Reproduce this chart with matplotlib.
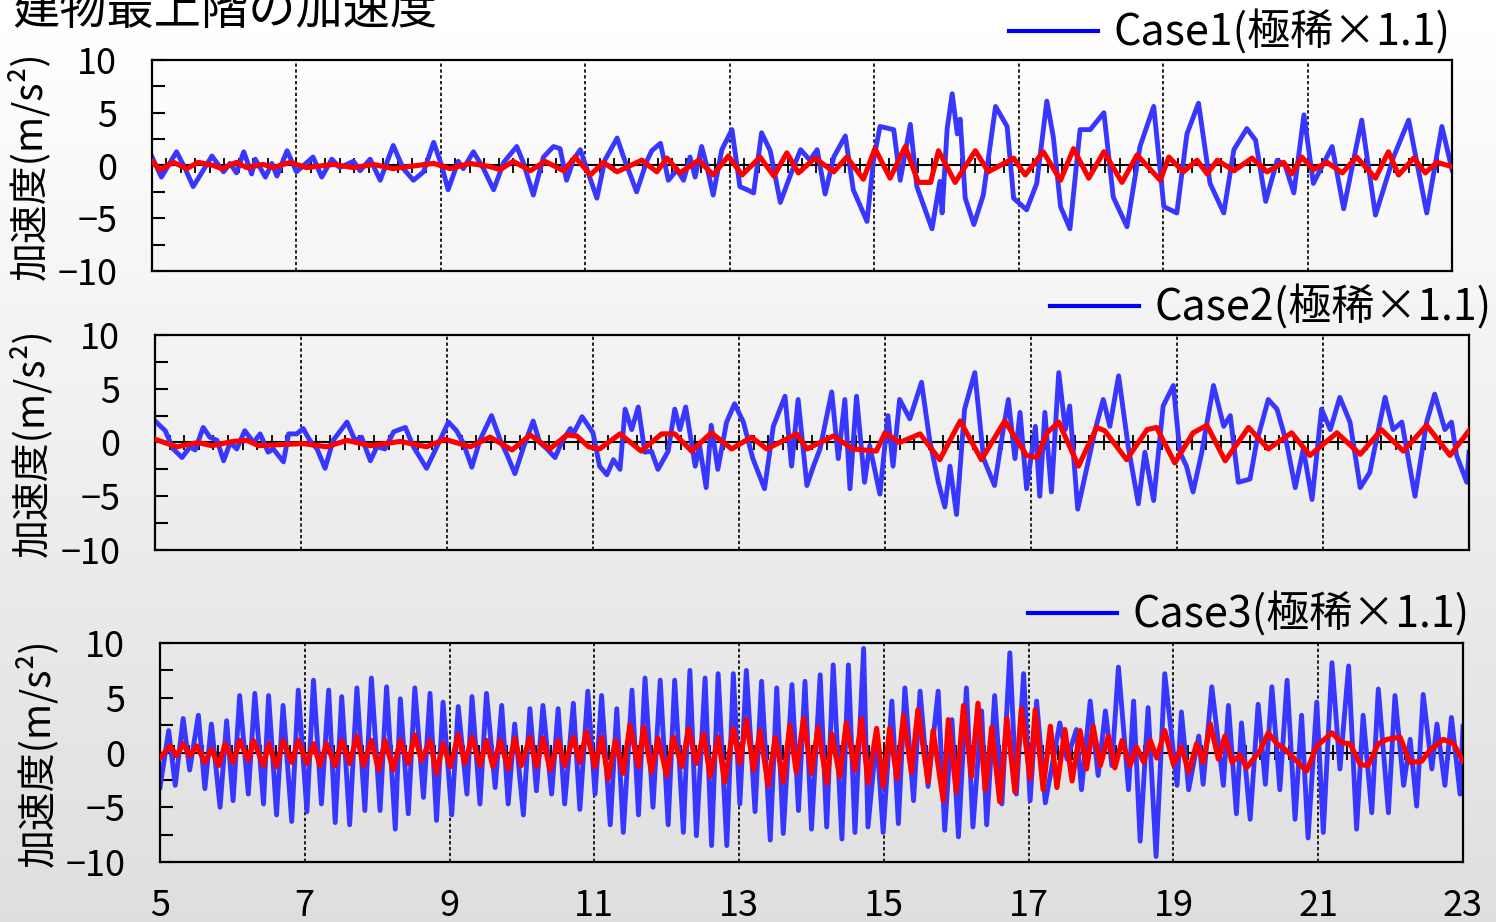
import numpy as np
import matplotlib.pyplot as plt

plt.rcParams['font.family'] = ['Noto Sans CJK JP', 'DejaVu Sans']

# (time [s], acceleration [m/s2]) turning points of each record
case1_blue = [(5.00, 0.8), (5.13, -1.1), (5.34, 1.3), (5.46, -0.3), (5.57, -2.0), (5.83, 0.9), (5.99, -0.6),
              (6.08, 0.2), (6.17, -0.7), (6.27, 1.3), (6.38, -0.8), (6.43, 0.6), (6.57, -1.1), (6.66, 0.2),
              (6.73, -1.0), (6.87, 1.4), (7.00, -0.6), (7.23, 0.8), (7.35, -1.1), (7.49, 0.6), (7.60, -0.2),
              (7.79, 0.4), (7.88, -0.5), (8.02, 0.6), (8.16, -1.4), (8.34, 1.9), (8.48, -0.3), (8.62, -1.4),
              (8.76, -0.6), (8.90, 2.2), (9.01, 0.0), (9.10, -2.3), (9.24, 0.4), (9.31, -0.3), (9.45, 1.3),
              (9.59, -0.3), (9.73, -2.3), (9.87, 0.3), (10.05, 1.8), (10.14, 0.3), (10.28, -2.8), (10.42, 0.8),
              (10.56, 1.8), (10.65, 1.6), (10.74, -1.4), (10.84, 0.6), (10.93, 1.5), (11.16, -3.1), (11.27, 0.5),
              (11.44, 2.6), (11.53, 0.8), (11.71, -2.5), (11.85, 0.4), (11.92, 1.4), (12.04, 2.1), (12.15, -1.4),
              (12.27, -0.4), (12.36, -1.4), (12.45, 0.8), (12.52, -1.1), (12.61, 1.8), (12.68, 0.0), (12.77, -2.8),
              (12.89, 1.5), (13.03, 3.4), (13.14, -2.0), (13.24, -2.3), (13.33, -2.6), (13.44, 3.1), (13.56, 1.4),
              (13.70, -3.5), (13.84, -0.9), (13.98, 1.5), (14.11, 0.5), (14.21, 1.5), (14.32, -2.7), (14.44, 0.8),
              (14.60, 2.8), (14.71, -2.3), (14.90, -5.3), (14.99, 0.5), (15.08, 3.7), (15.27, 3.4), (15.36, -1.4),
              (15.50, 3.9), (15.59, -2.0), (15.80, -6.0), (15.91, -1.5), (15.94, -4.5), (16.01, 3.5), (16.08, 6.8),
              (16.15, 3.0), (16.19, 4.4), (16.26, -3.1), (16.38, -5.6), (16.51, -2.8), (16.68, 5.6), (16.84, 3.7),
              (16.93, -3.1), (17.11, -4.2), (17.25, -1.7), (17.39, 6.1), (17.48, 2.7), (17.58, -3.9), (17.71, -6.0),
              (17.85, 3.4), (17.99, 3.4), (18.18, 5.0), (18.31, -3.0), (18.50, -5.8), (18.68, 1.8), (18.87, 5.6),
              (19.01, -3.9), (19.19, -4.5), (19.33, 3.0), (19.49, 5.9), (19.65, -1.7), (19.84, -4.5), (19.98, 1.5),
              (20.16, 3.5), (20.28, 2.4), (20.42, -3.4), (20.58, 0.5), (20.69, 0.0), (20.81, -2.6), (20.95, 4.8),
              (21.08, -1.7), (21.34, 1.8), (21.50, -4.1), (21.75, 4.3), (21.94, -4.7), (22.19, 0.8), (22.40, 4.3),
              (22.65, -4.5), (22.86, 3.7), (23.00, -0.4)]
case1_red = [(5.00, 0.4), (5.11, -0.4), (5.30, 0.3), (5.48, -0.3), (5.64, 0.3), (5.85, 0.0), (5.97, -0.3),
             (6.17, 0.3), (6.31, -0.2), (6.54, 0.1), (6.68, -0.2), (6.91, 0.3), (7.14, -0.2), (7.51, 0.1),
             (7.79, -0.2), (8.07, 0.1), (8.34, -0.3), (8.67, 0.0), (8.90, 0.2), (9.13, -0.3), (9.40, 0.2),
             (9.68, -0.1), (9.82, -0.4), (10.00, 0.4), (10.24, -0.5), (10.44, 0.4), (10.70, -0.5), (10.86, 0.8),
             (11.07, -0.9), (11.25, 0.3), (11.44, -0.6), (11.78, 0.5), (11.99, -0.6), (12.13, 0.7), (12.31, -0.7),
             (12.57, 0.5), (12.77, -0.9), (12.98, 0.9), (13.17, -0.9), (13.42, 0.8), (13.61, -1.0), (13.79, 1.2),
             (13.95, -0.7), (14.18, 0.7), (14.44, -0.6), (14.62, 0.8), (14.85, -1.3), (15.01, 1.6), (15.22, -1.2),
             (15.43, 1.8), (15.61, -1.6), (15.78, -1.6), (15.89, 1.4), (16.12, -1.6), (16.40, 1.4), (16.58, -0.6),
             (16.93, 0.7), (17.09, -0.9), (17.34, 1.3), (17.58, -1.4), (17.76, 1.6), (17.97, -1.2), (18.18, 1.3),
             (18.43, -1.6), (18.64, 1.0), (18.96, -1.4), (19.08, 0.8), (19.28, -0.6), (19.47, 0.5), (19.61, -0.8),
             (19.75, 0.5), (19.98, -0.5), (20.23, 0.7), (20.44, -0.6), (20.67, 0.3), (20.78, -0.8), (20.92, 0.8),
             (21.08, -0.4), (21.27, 0.3), (21.48, -0.7), (21.68, 0.8), (21.94, -1.2), (22.12, 1.3), (22.26, -0.9),
             (22.47, 0.7), (22.63, -0.7), (22.79, 0.3), (23.00, -0.1)]

case2_blue = [(5.00, 2.0), (5.14, 1.1), (5.25, -0.6), (5.37, -1.4), (5.48, -0.4), (5.55, -0.7), (5.66, 1.4),
              (5.75, 0.5), (5.85, 0.2), (5.94, -1.7), (6.03, 0.0), (6.12, -0.6), (6.23, 1.1), (6.35, 0.0),
              (6.44, 0.8), (6.55, -0.9), (6.62, -0.6), (6.76, -1.8), (6.83, 0.8), (6.94, 0.8), (7.03, 1.3),
              (7.12, 0.2), (7.22, -0.6), (7.33, -2.4), (7.44, 0.2), (7.63, 1.9), (7.74, 0.2), (7.83, 0.5),
              (7.95, -1.7), (8.04, -0.4), (8.15, -0.6), (8.27, 1.0), (8.43, 1.4), (8.54, -0.4), (8.72, -2.4),
              (8.84, -0.7), (9.02, 1.9), (9.13, 1.1), (9.22, 0.0), (9.34, -2.3), (9.45, 0.2), (9.61, 2.5),
              (9.73, 0.2), (9.82, -1.1), (9.93, -2.9), (10.05, -0.4), (10.18, 2.0), (10.27, 0.0), (10.37, -0.6),
              (10.48, -1.4), (10.57, 0.0), (10.69, 1.3), (10.73, 0.8), (10.85, 2.4), (11.00, 0.9), (11.09, -2.2),
              (11.19, -3.0), (11.28, -1.6), (11.37, -2.5), (11.44, 3.1), (11.53, 1.2), (11.62, 3.3), (11.71, -0.9),
              (11.80, -0.8), (11.89, -2.5), (12.03, -0.8), (12.12, 3.1), (12.19, 1.2), (12.27, 3.3), (12.40, -2.2),
              (12.46, -0.3), (12.55, -4.2), (12.62, 1.6), (12.71, -2.5), (12.83, 1.9), (12.94, 3.6), (13.06, 1.9),
              (13.19, -1.5), (13.35, -4.3), (13.47, 1.5), (13.63, 4.3), (13.72, -2.2), (13.81, 4.0), (13.93, -4.0),
              (14.02, -2.2), (14.11, -0.6), (14.27, 4.7), (14.36, -1.5), (14.45, 4.0), (14.52, -4.3), (14.61, 4.3),
              (14.72, -3.7), (14.79, -0.3), (14.93, -4.8), (15.04, 2.5), (15.11, -2.2), (15.20, 4.0), (15.34, 2.2),
              (15.50, 5.6), (15.61, 0.3), (15.73, -3.7), (15.82, -6.0), (15.89, -2.2), (15.98, -6.7), (16.09, 3.1),
              (16.23, 6.5), (16.35, -1.5), (16.50, -4.0), (16.62, 1.2), (16.69, 4.0), (16.78, -1.5), (16.85, 2.8),
              (16.94, -4.3), (17.06, 1.5), (17.12, -5.0), (17.19, 2.8), (17.28, -4.6), (17.38, 6.5), (17.47, 1.2),
              (17.53, 3.4), (17.64, -6.2), (17.76, -2.5), (17.88, 1.2), (17.99, 4.0), (18.08, 1.5), (18.20, 6.2),
              (18.33, -0.3), (18.47, -5.7), (18.56, -0.9), (18.68, -5.4), (18.81, 3.4), (18.95, 5.3), (19.04, -0.9),
              (19.13, -2.2), (19.22, -4.6), (19.34, -0.9), (19.50, 5.3), (19.64, 1.5), (19.73, 2.5), (19.84, -3.7),
              (20.00, -3.4), (20.09, 0.0), (20.25, 4.0), (20.37, 3.1), (20.50, 0.0), (20.62, -4.2), (20.73, -0.6),
              (20.85, -5.3), (20.98, 3.1), (21.10, 1.2), (21.23, 4.2), (21.37, 1.9), (21.51, -4.2), (21.64, -2.8),
              (21.85, 4.2), (21.96, 1.2), (22.08, 1.9), (22.26, -5.0), (22.42, 1.9), (22.53, 4.5), (22.67, 1.2),
              (22.76, 1.9), (22.83, -1.2), (22.97, -3.7), (23.00, -0.9)]
case2_red = [(5.00, 0.3), (5.30, -0.4), (5.59, 0.0), (5.78, -0.3), (6.07, 0.1), (6.26, 0.2), (6.42, -0.3),
             (6.69, -0.2), (7.03, -0.1), (7.35, -0.4), (7.63, 0.2), (7.95, -0.3), (8.36, 0.1), (8.72, -0.4),
             (8.97, 0.3), (9.32, -0.4), (9.59, 0.5), (9.89, -0.7), (10.14, 0.7), (10.41, -0.6), (10.64, 0.7),
             (10.78, 0.6), (10.94, -0.4), (11.09, -0.6), (11.37, 0.8), (11.66, -0.8), (11.94, 0.8), (12.12, 0.8),
             (12.35, -0.8), (12.62, 0.9), (12.90, -0.6), (13.17, 0.5), (13.38, -0.6), (13.79, 0.8), (13.93, -0.6),
             (14.29, 0.6), (14.56, -0.6), (14.88, -0.8), (15.00, 0.9), (15.20, 0.0), (15.48, 0.8), (15.75, -1.6),
             (16.03, 2.0), (16.32, -1.6), (16.64, 2.0), (16.94, -1.2), (17.08, -1.4), (17.22, 0.9), (17.38, 1.9),
             (17.65, -2.2), (17.90, 1.4), (18.01, 1.1), (18.31, -1.6), (18.59, 1.2), (18.72, 1.4), (18.97, -1.9),
             (19.22, 0.9), (19.41, 1.6), (19.66, -1.7), (19.98, 1.4), (20.25, -0.6), (20.57, 0.9), (20.82, -1.2),
             (21.19, 0.9), (21.51, -1.1), (21.80, 1.2), (22.10, -0.8), (22.42, 1.6), (22.74, -1.2), (23.00, 1.1)]

case3_blue = [(5.00, -3.2), (5.12, 2.0), (5.21, -3.0), (5.32, 3.1), (5.41, -1.6), (5.53, 3.4), (5.62, -3.3),
              (5.71, 2.6), (5.83, -5.0), (5.92, 2.9), (6.01, -4.4), (6.10, 5.2), (6.22, -3.8), (6.31, 5.4),
              (6.43, -4.7), (6.50, 5.2), (6.61, -5.7), (6.70, 4.3), (6.82, -6.3), (6.91, 5.7), (7.03, -5.4),
              (7.12, 6.6), (7.23, -4.7), (7.33, 5.7), (7.42, -6.4), (7.51, 5.1), (7.62, -6.6), (7.72, 5.9),
              (7.83, -5.3), (7.92, 6.8), (8.04, -5.3), (8.13, 6.0), (8.25, -7.0), (8.32, 4.9), (8.43, -5.6),
              (8.52, 5.9), (8.64, -4.1), (8.73, 5.4), (8.82, -6.2), (8.91, 4.6), (9.03, -5.7), (9.12, 4.2),
              (9.24, -3.8), (9.31, 5.1), (9.42, -4.7), (9.51, 5.4), (9.63, -3.2), (9.72, 4.3), (9.81, -4.7),
              (9.90, 2.6), (10.02, -5.7), (10.11, 4.0), (10.20, -3.5), (10.29, 4.3), (10.41, -3.8), (10.50, 4.0),
              (10.59, -4.7), (10.71, 4.5), (10.80, -5.2), (10.91, 5.6), (11.01, -3.8), (11.10, 5.2), (11.22, -6.6),
              (11.31, 4.0), (11.40, -7.3), (11.52, 5.7), (11.61, -5.7), (11.70, 6.8), (11.81, -5.0), (11.91, 6.6),
              (12.02, -6.6), (12.11, 6.6), (12.23, -7.3), (12.32, 7.5), (12.41, -7.6), (12.53, 6.8), (12.62, -8.5),
              (12.71, 7.2), (12.83, -8.5), (12.92, 7.2), (13.01, -4.7), (13.10, 7.5), (13.22, -5.4), (13.31, 6.5),
              (13.43, -8.0), (13.52, 5.9), (13.61, -7.4), (13.73, 6.2), (13.82, -5.3), (13.91, 6.5), (14.00, -7.0),
              (14.12, 7.1), (14.21, -6.8), (14.30, 8.0), (14.42, -7.9), (14.51, 8.0), (14.60, -7.3), (14.72, 9.5),
              (14.78, -6.8), (14.90, 1.5), (14.99, -7.3), (15.11, 4.7), (15.20, -6.5), (15.29, 5.9), (15.41, -4.4),
              (15.50, 5.6), (15.61, -3.1), (15.75, 5.6), (15.84, -7.1), (15.94, 3.0), (16.03, -7.7), (16.14, 5.9),
              (16.23, -6.8), (16.35, 3.8), (16.42, -6.6), (16.53, 5.2), (16.63, -4.7), (16.74, 9.1), (16.83, -3.8),
              (16.93, 7.2), (17.02, -4.4), (17.11, 4.7), (17.23, -4.6), (17.43, 2.7), (17.53, -0.6), (17.66, 2.1),
              (17.73, -3.4), (17.85, 4.7), (17.96, -2.1), (18.06, 3.8), (18.15, -1.2), (18.24, 7.8), (18.38, -3.4),
              (18.45, 4.7), (18.54, -8.1), (18.65, 4.1), (18.76, -9.5), (18.88, 7.2), (19.05, -3.0), (19.11, 3.7),
              (19.21, -3.4), (19.35, 1.5), (19.41, -2.9), (19.53, 6.0), (19.69, -3.0), (19.76, 4.3), (19.87, -5.6),
              (19.94, 2.7), (20.06, -6.1), (20.17, 4.4), (20.27, -2.9), (20.36, 6.0), (20.47, -3.4), (20.57, 6.6),
              (20.68, -6.1), (20.77, 3.4), (20.86, -7.8), (20.98, 4.6), (21.07, -7.3), (21.19, 8.2), (21.30, -1.5),
              (21.42, 7.9), (21.53, -7.0), (21.62, 3.4), (21.74, -5.5), (21.83, 5.8), (21.97, -5.5), (22.06, 5.2),
              (22.18, -3.0), (22.27, 1.2), (22.36, -4.9), (22.45, 5.3), (22.57, -1.5), (22.64, 2.6), (22.75, -3.0),
              (22.84, 3.2), (22.96, -3.8), (23.00, 2.4)]
case3_red = [(5.00, -0.5), (5.14, 0.6), (5.23, -0.3), (5.32, 0.8), (5.41, -0.3), (5.51, 0.6), (5.62, -0.9),
             (5.71, 0.3), (5.81, -1.2), (5.90, 0.8), (6.01, -0.9), (6.10, 1.1), (6.22, -0.7), (6.29, 1.1),
             (6.43, -1.2), (6.50, 0.8), (6.61, -1.3), (6.70, 1.1), (6.82, -0.9), (6.91, 1.1), (7.03, -1.0),
             (7.12, 0.8), (7.21, -1.2), (7.30, 0.8), (7.42, -1.2), (7.51, 1.1), (7.62, -1.0), (7.72, 1.5),
             (7.81, -1.2), (7.92, 1.1), (8.02, -1.6), (8.11, 1.1), (8.22, -1.6), (8.32, 1.1), (8.43, -1.0),
             (8.52, 1.6), (8.61, -0.7), (8.73, 1.1), (8.82, -1.9), (8.91, 0.8), (9.01, -1.3), (9.12, 1.6),
             (9.21, -1.0), (9.31, 1.4), (9.42, -1.2), (9.51, 1.1), (9.60, -1.3), (9.70, 1.1), (9.81, -1.5),
             (9.90, 1.3), (9.99, -1.2), (10.11, 1.4), (10.20, -1.3), (10.29, 1.3), (10.39, -1.6), (10.50, 1.1),
             (10.59, -1.2), (10.71, 1.4), (10.80, -0.9), (10.89, 1.9), (11.01, -1.3), (11.10, 1.4), (11.19, -2.4),
             (11.29, 1.1), (11.40, -1.9), (11.49, 2.5), (11.61, -1.3), (11.68, 2.3), (11.79, -1.8), (11.88, 1.3),
             (12.00, -2.1), (12.09, 1.4), (12.21, -1.3), (12.30, 2.2), (12.41, -1.0), (12.51, 1.7), (12.60, -2.2),
             (12.71, 1.4), (12.80, -2.7), (12.92, 2.2), (13.01, -1.0), (13.10, 3.0), (13.20, -1.6), (13.29, 2.0),
             (13.40, -3.0), (13.50, 1.4), (13.61, -2.7), (13.70, 2.5), (13.79, -1.8), (13.89, 3.1), (14.00, -1.9),
             (14.09, 2.3), (14.21, -2.8), (14.28, 1.7), (14.39, -2.2), (14.48, 2.7), (14.60, -1.6), (14.69, 3.1),
             (14.78, -2.8), (14.90, 2.2), (14.99, -3.1), (15.08, 2.2), (15.18, -2.4), (15.27, 3.4), (15.38, -1.8),
             (15.47, 3.9), (15.61, -2.7), (15.68, 2.0), (15.82, -4.4), (15.89, 3.0), (16.00, -3.6), (16.10, 4.3),
             (16.21, -2.2), (16.30, 4.5), (16.40, -3.4), (16.49, 2.3), (16.60, -4.5), (16.70, 3.1), (16.81, -3.6),
             (16.90, 4.0), (17.02, -2.4), (17.09, 3.9), (17.20, -3.4), (17.30, 2.4), (17.39, -3.2), (17.50, 2.1),
             (17.60, -2.6), (17.71, 2.0), (17.80, -1.5), (17.89, 2.4), (17.99, -1.2), (18.10, 1.5), (18.19, -1.4),
             (18.29, 1.1), (18.40, -1.2), (18.49, 0.5), (18.59, -0.9), (18.68, 1.1), (18.77, -0.5), (18.88, 2.0),
             (19.00, -1.1), (19.11, 0.5), (19.21, -1.8), (19.32, 0.8), (19.41, -0.9), (19.51, 2.6), (19.62, -0.6),
             (19.71, 1.5), (19.81, -0.9), (19.92, -0.2), (20.01, -1.4), (20.20, 0.2), (20.31, 1.8), (20.43, 0.8),
             (20.54, 0.3), (20.66, -0.5), (20.84, -1.7), (20.98, 0.6), (21.19, 1.8), (21.32, 0.9), (21.44, 0.8),
             (21.58, -1.1), (21.69, -1.2), (21.83, 0.8), (21.95, 1.2), (22.13, 1.4), (22.27, -0.9), (22.43, -0.8),
             (22.54, 0.2), (22.73, 1.2), (22.87, 0.8), (23.00, -0.8)]

case_names = ['Case1(極稀×1.1)', 'Case2(極稀×1.1)', 'Case3(極稀×1.1)']
xtick_vals = [5, 7, 9, 11, 13, 15, 17, 19, 21, 23]
ytick_vals = [-10, -5, 0, 5, 10]

W, H = 1496, 922
fig = plt.figure(figsize=(W / 100, H / 100), dpi=100)

# soft grey gradient behind everything
bg = fig.add_axes([0, 0, 1, 1], zorder=-10)
bg.imshow(np.linspace(1.0, 0.87, 256).reshape(-1, 1), cmap='gray', vmin=0, vmax=1,
          aspect='auto', extent=[0, 1, 0, 1])
bg.axis('off')

fig.text(12 / W, 1 - 24 / H, '建物最上階の加速度', fontsize=34, va='baseline')

# panel boxes in pixels: left, top, right, bottom
boxes = [(152, 60, 1452, 271), (155, 335, 1469, 550), (160, 643, 1463, 862)]
legend_anchor = [(0.999, 1.02), (1.0175, 1.02), (1.0055, 1.023)]
records = [(case1_blue, case1_red), (case2_blue, case2_red), (case3_blue, case3_red)]

for i in range(3):
    l, t, r, b = boxes[i]
    ax = fig.add_axes([l / W, 1 - b / H, (r - l) / W, (b - t) / H])
    ax.patch.set_alpha(0)

    ax.axhline(0, color='k', lw=1.5, zorder=1)
    ax.vlines(np.arange(5, 23.01, 0.2), -0.7, 0.7, color='k', lw=1.3, zorder=1)

    bt, bv = zip(*records[i][0])
    rt, rv = zip(*records[i][1])
    ax.plot(bt, bv, color='#3737ff', lw=3.5, label=case_names[i], zorder=2)
    ax.plot(rt, rv, color='#ff0000', lw=3.7, zorder=3)

    ax.set_xlim(5, 23)
    ax.set_ylim(-10, 10)
    ax.set_xticks(xtick_vals)
    ax.set_yticks(ytick_vals)
    ax.set_yticks([-7.5, -2.5, 2.5, 7.5], minor=True)
    ax.grid(axis='x', color='k', ls=(0, (2, 1.5)), lw=1.2, zorder=1)
    ax.tick_params(axis='x', length=0, labelsize=26, pad=19, labelbottom=(i == 2))
    ax.tick_params(axis='y', which='both', direction='in', length=9, width=1.5, labelsize=26, pad=25)
    for s in ax.spines.values():
        s.set_linewidth(1.6)

    ax.set_ylabel('加速度(m/s²)', fontsize=28)
    ax.yaxis.set_label_coords(-0.078, 0.5)

    leg = ax.legend(loc='lower right', bbox_to_anchor=legend_anchor[i], frameon=False, fontsize=31,
                    handlelength=2.07, handletextpad=0.37, borderpad=0, borderaxespad=0)
    leg.get_lines()[0].set_color('#0000ff')
    leg.get_lines()[0].set_linewidth(3.0)

fig.savefig('out.png', dpi=100)
